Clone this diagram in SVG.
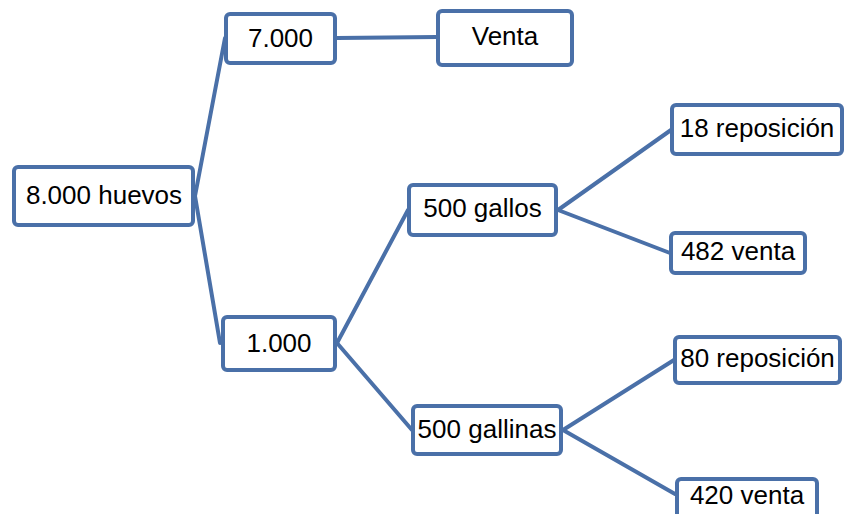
<svg xmlns="http://www.w3.org/2000/svg" width="845" height="514" viewBox="0 0 845 514">
<style>
.box{fill:#ffffff;stroke:#4a70a8;stroke-width:4}
.lbl{font-family:"Liberation Sans",Arial,sans-serif;font-size:26px;fill:#000000;text-anchor:middle}
.conn line{stroke:#4a70a8;stroke-width:4;stroke-linecap:round}
</style>
<rect width="845" height="514" fill="#ffffff"/>
<g id="connectors" class="conn">
<line x1="195" y1="196" x2="225" y2="38"/>
<line x1="195" y1="196" x2="220" y2="343"/>
<line x1="337" y1="38" x2="437" y2="37"/>
<line x1="337" y1="343" x2="408" y2="210"/>
<line x1="337" y1="343" x2="412" y2="430"/>
<line x1="558" y1="210" x2="671" y2="130"/>
<line x1="558" y1="210" x2="670" y2="253"/>
<line x1="563" y1="430" x2="674" y2="360"/>
<line x1="563" y1="430" x2="675" y2="494"/>
</g>
<g id="n-huevos"><rect class="box" x="14" y="167" width="179" height="58" rx="4"/><text class="lbl" x="104" y="204">8.000 huevos</text></g>
<g id="n-7000"><rect class="box" x="226" y="14" width="109" height="49" rx="4"/><text class="lbl" x="280.5" y="47">7.000</text></g>
<g id="n-venta"><rect class="box" x="438" y="11" width="134" height="54" rx="4"/><text class="lbl" x="505" y="45">Venta</text></g>
<g id="n-1000"><rect class="box" x="223" y="317" width="112" height="53" rx="4"/><text class="lbl" x="279" y="352">1.000</text></g>
<g id="n-gallos"><rect class="box" x="409" y="185" width="147" height="50" rx="4"/><text class="lbl" x="482.5" y="217">500 gallos</text></g>
<g id="n-gallinas"><rect class="box" x="413" y="406" width="148" height="48" rx="4"/><text class="lbl" x="487" y="438">500 gallinas</text></g>
<g id="n-18rep"><rect class="box" x="672" y="105" width="170" height="49" rx="4"/><text class="lbl" x="757" y="137">18 reposición</text></g>
<g id="n-482v"><rect class="box" x="671" y="233" width="134" height="40" rx="4"/><text class="lbl" x="738" y="260">482 venta</text></g>
<g id="n-80rep"><rect class="box" x="675" y="337" width="165" height="46" rx="4"/><text class="lbl" x="757.5" y="367">80 reposición</text></g>
<g id="n-420v"><rect class="box" x="677" y="479" width="140" height="50" rx="4"/><text class="lbl" x="747" y="504">420 venta</text></g>
</svg>
